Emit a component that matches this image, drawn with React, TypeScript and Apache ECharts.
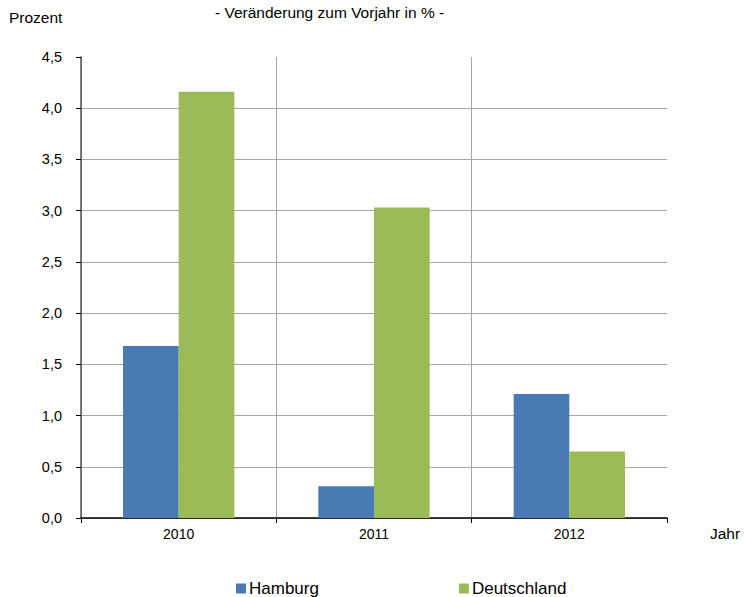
import React, { useEffect, useRef } from "react";
import * as echarts from "echarts";

const categories = ["2010", "2011", "2012"];
const hamburg = [1.68, 0.31, 1.21];
const deutschland = [4.16, 3.03, 0.65];
const seriesNames = ["Hamburg", "Deutschland"];
const subtitle = "- Veränderung zum Vorjahr in % -";
const yUnit = "Prozent";
const xUnit = "Jahr";

const FONT = "'Liberation Sans', Arial, sans-serif";

export default function App() {
  const ref = useRef<HTMLDivElement>(null);
  useEffect(() => {
    if (!ref.current) return;
    const chart = echarts.init(ref.current, undefined, { renderer: "svg" });
    chart.setOption({
      animation: false,
      textStyle: { fontFamily: FONT },
      grid: { left: 81, right: 77, top: 57, bottom: 79, containLabel: false },
      graphic: [
        { type: "text", left: 215, top: 4, style: { text: subtitle, fontFamily: FONT, fontSize: 15.5, fill: "#000" } },
        { type: "text", left: 9, top: 9, style: { text: yUnit, fontFamily: FONT, fontSize: 15.5, fill: "#000" } },
        { type: "text", left: 710, top: 525, style: { text: xUnit, fontFamily: FONT, fontSize: 15.5, fill: "#000" } },
      ],
      legend: {
        left: 236,
        top: 580,
        padding: 0,
        itemWidth: 10,
        itemHeight: 10,
        itemGap: 140,
        icon: "rect",
        textStyle: { fontFamily: FONT, fontSize: 17, color: "#000", padding: [0, 0, 0, -2] },
        data: seriesNames,
      },
      xAxis: {
        type: "category",
        data: categories,
        axisLine: { lineStyle: { color: "#000", width: 1.5 } },
        axisTick: { show: true, length: 5, lineStyle: { color: "#000" } },
        axisLabel: { color: "#000", fontSize: 14, margin: 9, fontFamily: FONT },
        splitLine: { show: true, showMaxLine: false, lineStyle: { color: "#a6a6a6", width: 1 } },
      },
      yAxis: {
        type: "value",
        min: 0,
        max: 4.5,
        interval: 0.5,
        axisLine: { show: true, lineStyle: { color: "#555", width: 1.5 } },
        axisTick: { show: true, length: 5, lineStyle: { color: "#000" } },
        axisLabel: {
          color: "#000",
          fontSize: 14.5,
          margin: 19,
          fontFamily: FONT,
          formatter: (v: number) => v.toFixed(1).replace(".", ","),
        },
        splitLine: { show: true, showMaxLine: false, lineStyle: { color: "#a6a6a6", width: 1 } },
      },
      series: [
        {
          name: seriesNames[0],
          type: "bar",
          data: hamburg,
          itemStyle: { color: "#4a7ab4" },
          barGap: "0%",
          barCategoryGap: "43%",
        },
        {
          name: seriesNames[1],
          type: "bar",
          data: deutschland,
          itemStyle: { color: "#9bbb59" },
          barGap: "0%",
          barCategoryGap: "43%",
        },
      ],
    });
    return () => chart.dispose();
  }, []);
  return <div ref={ref} style={{ width: 744, height: 597, position: "absolute", left: 0, top: 0 }} />;
}
